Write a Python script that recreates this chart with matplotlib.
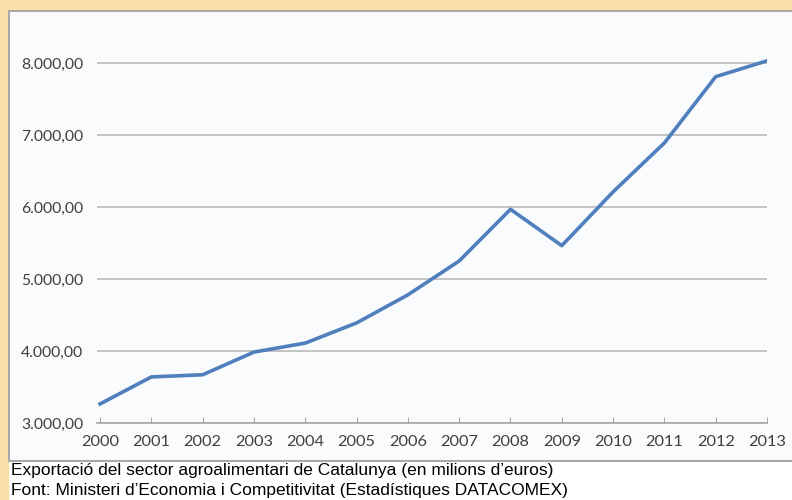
import numpy as np
import matplotlib.pyplot as plt
from matplotlib.patches import Rectangle
from matplotlib.ticker import FuncFormatter

# Exportació agroalimentària de Catalunya (milions d'euros)
years = [2000, 2001, 2002, 2003, 2004, 2005, 2006, 2007, 2008, 2009, 2010, 2011, 2012, 2013]
values = [3265, 3640, 3670, 3985, 4110, 4390, 4780, 5250, 5968, 5463, 6210, 6890, 7810, 8030]
y_ticks = [3000, 4000, 5000, 6000, 7000, 8000]
caption = ["Exportació del sector agroalimentari de Catalunya (en milions d\u2019euros)",
           "Font: Ministeri d\u2019Economia i Competitivitat (Estadístiques DATACOMEX)"]

W, H = 792, 500
fig = plt.figure(figsize=(W / 100, H / 100), dpi=100)
fig.patch.set_facecolor('white')

# peach frame (top and left strips)
fig.add_artist(Rectangle((0, 0), 8 / W, 1, transform=fig.transFigure, color='#FCDFA8', zorder=0))
fig.add_artist(Rectangle((0, 1 - 9 / H), 1, 9 / H, transform=fig.transFigure, color='#FCDFA8', zorder=0))
# chart panel with grey border
fig.add_artist(Rectangle((9 / W, 1 - 461 / H), 1, 450 / H, transform=fig.transFigure,
                         facecolor='#FAFBFD', edgecolor='#A8A8A8', lw=1.5, zorder=0))

ax = fig.add_axes([97 / W, 1 - 423 / H, 670 / W, 396 / H])
ax.set_facecolor('none')
ax.plot(years, values, color='#4F7FBD', lw=2.6, solid_joinstyle='round', zorder=3)

ax.set_xlim(1999.94, 2013.0)
ax.set_ylim(3000, 8500)
ax.set_yticks(y_ticks)
ax.yaxis.set_major_formatter(FuncFormatter(lambda v, p: f"{v:,.2f}".replace(',', 'X').replace('.', ',').replace('X', '.')))
ax.set_xticks(years)
ax.grid(axis='y', color='#B4B4B4', lw=1.1)
ax.set_axisbelow(True)

for s in ['top', 'right', 'left']:
    ax.spines[s].set_visible(False)
ax.spines['bottom'].set_color('#A8A8A8')
ax.spines['bottom'].set_linewidth(1.2)

ax.tick_params(axis='y', length=0, pad=10, labelsize=11.3, labelcolor='#404040')
ax.tick_params(axis='x', direction='in', length=4, color='#A8A8A8', pad=9,
               labelsize=11.8, labelcolor='#404040')
for lab in ax.get_xticklabels() + ax.get_yticklabels():
    lab.set_family('Lato')

fig.text(11 / W, 1 - 471 / H, caption[0], family='Liberation Sans', fontsize=12.5,
         color='black', va='center')
fig.text(11 / W, 1 - 490 / H, caption[1], family='Liberation Sans', fontsize=12.5,
         color='black', va='center')

fig.savefig('out.png', dpi=100)
